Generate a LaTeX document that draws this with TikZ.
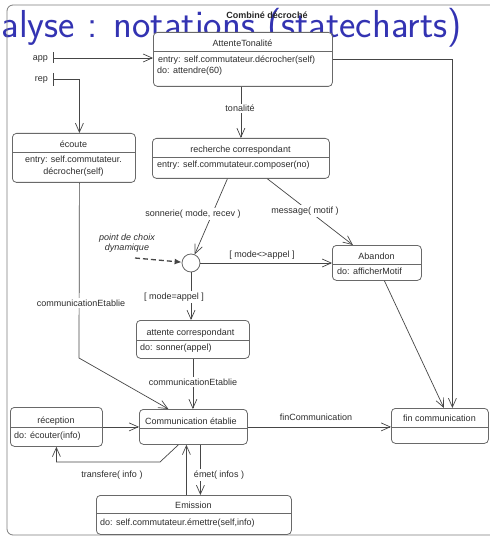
\documentclass[tikz,border=0pt]{standalone}
\usepackage{fontspec}
\newfontfamily\diagfont{Liberation Sans}
\usetikzlibrary{arrows.meta,calc}

\definecolor{titleblue}{RGB}{51,51,178}
\definecolor{boxgray}{RGB}{105,105,105}
\definecolor{wiregray}{RGB}{70,70,70}
\definecolor{txtgray}{RGB}{45,45,45}
\definecolor{framegray}{RGB}{125,125,125}

\newcommand{\dfont}{\diagfont\fontsize{9}{10}\selectfont}

\begin{document}
\begin{tikzpicture}[x=1pt,y=-1pt,
  state/.style={draw=boxgray, fill=white, rounded corners=4pt, line width=0.8pt,
                inner sep=0pt, anchor=north west},
  stname/.style={font=\dfont, text=txtgray, inner sep=0pt, anchor=base},
  body/.style={font=\dfont, text=txtgray, inner sep=0pt, anchor=base west},
  sep/.style={draw=boxgray, line width=0.8pt},
  wire/.style={draw=wiregray, line width=0.7pt},
  tr/.style={wire, -{Straight Barb[length=9pt,width=8pt]}},
  lbl/.style={font=\dfont, text=txtgray, fill=white, inner sep=1.5pt},
  plain/.style={font=\dfont, text=txtgray, inner sep=0pt},
]
\useasboundingbox (0,0) rectangle (489,537);

% slide heading behind the chart
\node[font=\sffamily\fontsize{39}{42}\selectfont, text=titleblue, anchor=base east,
      inner sep=0pt] (title) at (462,38) {alyse : notations (statecharts)};

% enclosing composite state
\draw[framegray, line width=0.8pt, rounded corners=6pt] (7,5) rectangle (500,535);
\node[font=\dfont\bfseries, text=black!85, inner sep=0pt] (heading) at (267,15) {Combiné décroché};

% ---- states ----
\node[state, minimum width=179pt, minimum height=54pt] (att) at (153,32) {};
\node[stname] (attname) at (242.5,46.5) {AttenteTonalité};
\draw[sep] (att.west |- 0,51.5) -- (att.east |- 0,51.5);
\node[body] (attentry) at (158,62.5) {entry: self.commutateur.décrocher(self)};
\node[body] (attdo) at (157,74) {do: attendre(60)};

\node[state, minimum width=123pt, minimum height=49pt] (ecoute) at (12,133) {};
\node[stname] (ecname) at (73.5,148) {écoute};
\draw[sep] (ecoute.west |- 0,152) -- (ecoute.east |- 0,152);
\node[stname] (ecentry) at (73.5,163) {entry: self.commutateur.};
\node[stname] (ecentry2) at (73.5,175) {décrocher(self)};

\node[state, minimum width=177pt, minimum height=40pt] (rech) at (152,138) {};
\node[stname] (rechname) at (240.5,153) {recherche correspondant};
\draw[sep] (rech.west |- 0,157.5) -- (rech.east |- 0,157.5);
\node[body] (rechentry) at (157,167.5) {entry: self.commutateur.composer(no)};

\node[circle, draw=boxgray, fill=white, line width=0.8pt, minimum size=18pt,
      inner sep=0pt] (choice) at (191,263) {};

\node[state, minimum width=89pt, minimum height=35pt] (aband) at (332,245) {};
\node[stname] (abname) at (376.5,259) {Abandon};
\draw[sep] (aband.west |- 0,264) -- (aband.east |- 0,264);
\node[body] (abdo) at (337,274) {do: afficherMotif};

\node[state, minimum width=113pt, minimum height=38pt] (attc) at (136,320) {};
\node[stname] (attcname) at (190.5,335) {attente correspondant};
\draw[sep] (attc.west |- 0,340) -- (attc.east |- 0,340);
\node[body] (attcdo) at (140,350.5) {do: sonner(appel)};

\node[state, minimum width=108pt, minimum height=35pt] (comm) at (139,409) {};
\node[stname] (commname) at (191,424) {Communication établie};
\draw[sep] (comm.west |- 0,428) -- (comm.east |- 0,428);

\node[state, minimum width=92pt, minimum height=39pt] (recep) at (10,407) {};
\node[stname] (recname) at (56,423) {réception};
\draw[sep] (recep.west |- 0,427) -- (recep.east |- 0,427);
\node[body] (recdo) at (14,438) {do: écouter(info)};

\node[state, minimum width=195pt, minimum height=39pt] (emis) at (96,495) {};
\node[stname] (emname) at (193.5,508) {Emission};
\draw[sep] (emis.west |- 0,513) -- (emis.east |- 0,513);
\node[body] (emdo) at (100,525) {do: self.commutateur.émettre(self,info)};

\node[state, minimum width=97pt, minimum height=35pt] (fin) at (391,408) {};
\node[stname] (finname) at (439.5,421) {fin communication};
\draw[sep] (fin.west |- 0,427) -- (fin.east |- 0,427);

% ---- entry points ----
\coordinate (appinit) at (53,58);
\coordinate (repinit) at (53,79);
\node[plain, anchor=base east] (applbl) at (48,61) {app};
\node[plain, anchor=base east] (replbl) at (48,82) {rep};
\draw[wire, line width=0.9pt] ([yshift=5.5pt]appinit) -- ([yshift=-5.5pt]appinit);
\draw[wire, line width=0.9pt] ([yshift=6pt]repinit) -- ([yshift=-7pt]repinit);
\draw[tr] (appinit) -- (appinit -| att.west);
\draw[tr] (repinit) -| ([xshift=5.5pt]ecoute.north);

% ---- transitions ----
\draw[tr] (att.south -| rech.north) -- (rech.north);
\draw[tr] (att.east) -| ([xshift=12.5pt]fin.north);
\draw[tr] ([xshift=-13.5pt]rech.south) -- (choice);
\draw[tr] ([xshift=26.5pt]rech.south) -- ([xshift=-24pt]aband.north);
\draw[tr] (choice) -- (choice -| aband.west);
\draw[tr] (choice) -- (choice |- attc.north);
\draw[tr] ([xshift=7.5pt]aband.south) -- ([xshift=4pt]fin.north);

\coordinate (ecbend) at (79,358);
\draw[tr] ([xshift=5.5pt]ecoute.south) -- (ecbend) -- ([xshift=-25pt]comm.north);
\draw[tr] (attc.south) -- (attc.south |- comm.north);
\draw[tr] (recep.east) -- (comm.west);
\draw[tr] (comm.east) -- (comm.east -| fin.west);

\coordinate (trbend) at (160,462);
\draw[tr] ([xshift=-15pt]comm.south) -- (trbend) -- (trbend -| recep.south) -- (recep.south);
\draw[tr] ([xshift=7pt]comm.south) -- ([xshift=7pt]comm.south |- emis.north);
\draw[tr] ([xshift=-7.5pt]emis.north) -- ([xshift=-7.5pt]emis.north |- comm.south);

% dynamic choice annotation
\node[plain, font=\dfont\itshape, align=center] (note) at (127,243) {point de choix\\dynamique};
\coordinate (notetail) at (135,258);
\draw[wire, line width=1.3pt, dash pattern=on 5pt off 3pt,
      -{Latex[length=7pt,width=6pt]}] (notetail) -- (choice);

% ---- transition labels ----
\node[lbl] (ltonal) at (240,108.5) {tonalité};
\node[lbl] (lsonn) at (193,214) {sonnerie( mode, recev )};
\node[lbl] (lmsg) at (305,211) {message( motif )};
\node[plain] (lneq) at (262,255) {[ mode<>appel ]};
\node[lbl] (leq) at (174,297) {[ mode=appel ]};
\node[lbl] (lcomm1) at (81,303) {communicationEtablie};
\node[lbl] (lcomm2) at (193,382) {communicationEtablie};
\node[plain] (lfin) at (316,417) {finCommunication};
\node[plain] (ltransf) at (112,475) {transfere( info )};
\node[lbl] (lemet) at (219,475) {émet( infos )};
\end{tikzpicture}
\end{document}
